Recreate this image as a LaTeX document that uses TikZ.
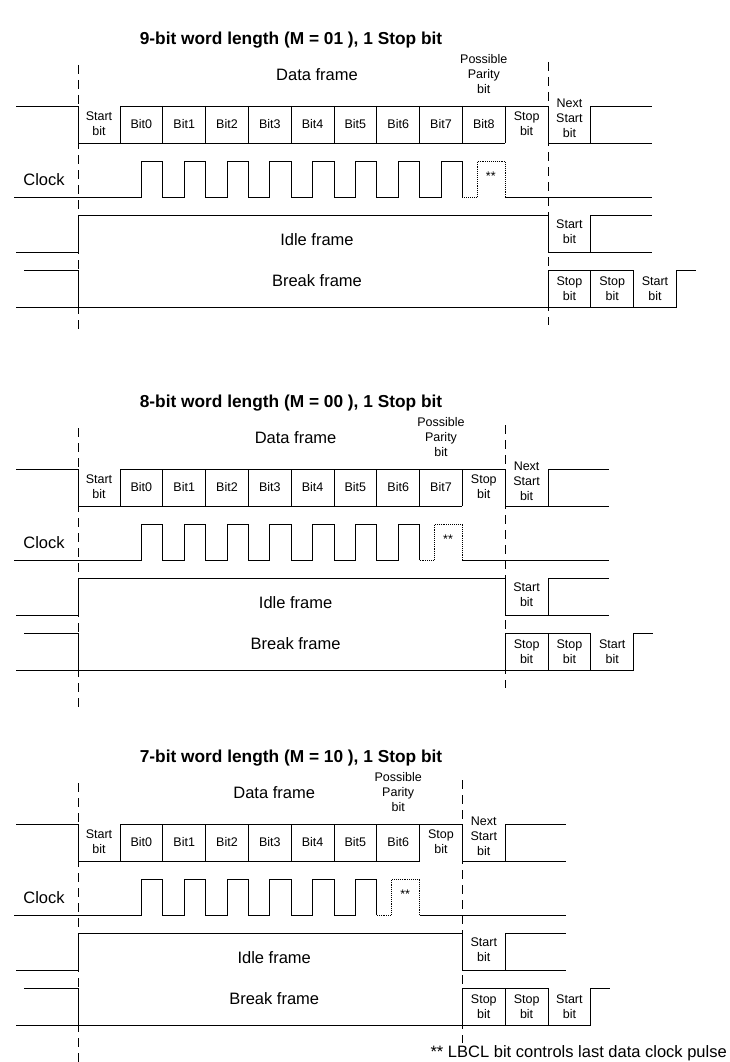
\documentclass[tikz,border=0pt]{standalone}
\usepackage{fontspec}
\setmainfont{Liberation Sans}
\usetikzlibrary{calc}

\tikzset{
  signal/.style={line width=0.9pt},
  sep/.style={line width=0.9pt,dash pattern=on 9pt off 6pt},
  lbl/.style={font=\fontsize{12.5}{15}\selectfont,align=center,inner sep=0pt},
  big/.style={font=\fontsize{16.5}{19}\selectfont,inner sep=0pt},
  ttl/.style={font=\fontsize{17.3}{19}\selectfont\bfseries,inner sep=0pt}
}

% one frame set: #1 shift, #2 number of data bits, #3 word length, #4 M value, #5 end of left marker
\newcommand{\uartdiagram}[5]{%
\begin{scope}[yshift=-#1pt]
  \pgfmathsetmacro{\w}{42.8}
  \pgfmathsetmacro{\E}{120+#2*\w}
  \pgfmathsetmacro{\D}{\E+\w}
  \pgfmathsetmacro{\M}{(78+\D)/2+4}
  \pgfmathtruncatemacro{\last}{#2-1}
  \pgfmathtruncatemacro{\prev}{#2-2}
  \node[ttl] (title) at (291,40) {#3-bit word length (M = #4 ), 1 Stop bit};
  % markers
  \draw[sep] (78,65) -- (78,#5);
  \draw[sep] (\D,62) -- (\D,325);
  % data frame
  \draw[signal] (16,106) -- (78,106) -- (78,143) -- (\E,143);
  \draw[signal] (120,106) -- (\D,106) -- (\D,143) -- (\D+104,143);
  \draw[signal] (\D+\w,143) -- (\D+\w,106) -- (\D+104,106);
  \foreach \i in {0,...,#2}
    \draw[signal] ({120+\i*\w},106) -- ({120+\i*\w},143);
  \node[lbl] (startbit) at (99,124) {Start\\bit};
  \foreach \i in {0,...,\last}
    \node[lbl] (bit\i) at ({120+(\i+.5)*\w},124) {Bit\i};
  \node[lbl] (stopbit) at (\E+\w/2,124) {Stop\\bit};
  \node[lbl] (nextstart) at (\D+\w/2,118) {Next\\Start\\bit};
  \node[lbl] (parity) at (\E-\w/2,74) {Possible\\Parity\\bit};
  \node[big] (data) at (\M,75) {Data frame};
  % clock
  \node[big] (clock) at (44,180) {Clock};
  \draw[signal] (14,197)
    \foreach \i in {0,...,\prev}{
      -- ({120+(\i+.5)*\w},197) -- ({120+(\i+.5)*\w},161)
      -- ({120+(\i+1)*\w},161) -- ({120+(\i+1)*\w},197)};
  \draw[line width=0.9pt,densely dotted] (\E-\w,197) -- (\E-\w+15,197)
    -- (\E-\w+15,161) -- (\E,161) -- (\E,197);
  \draw[signal] (\E,197) -- (\D+104,197);
  \node[lbl] (stars) at (\E-\w/2+7,176) {**};
  % idle frame
  \draw[signal] (16,252) -- (78,252) -- (78,215) -- (\D,215) -- (\D,252) -- (\D+104,252);
  \draw[signal] (\D+\w,252) -- (\D+\w,215) -- (\D+104,215);
  \node[big] (idle) at (\M,240) {Idle frame};
  \node[lbl] (idlestart) at (\D+\w/2,232) {Start\\bit};
  % break frame
  \draw[signal] (24,270) -- (78,270) -- (78,307);
  \draw[signal] (16,307) -- (\D+3*\w,307) -- (\D+3*\w,270) -- (\D+148,270);
  \draw[signal] (\D,307) -- (\D,270) -- (\D+2*\w,270) -- (\D+2*\w,307);
  \draw[signal] (\D+\w,270) -- (\D+\w,307);
  \node[big] (break) at (\M,281) {Break frame};
  \node[lbl] (brstop1) at (\D+\w/2,289) {Stop\\bit};
  \node[lbl] (brstop2) at (\D+1.5*\w,289) {Stop\\bit};
  \node[lbl] (brstart) at (\D+2.5*\w,289) {Start\\bit};
\end{scope}}

\begin{document}
\begin{tikzpicture}[x=1pt,y=-1pt]
\useasboundingbox (0,0) rectangle (729,1062);
\uartdiagram{0}{9}{9}{01}{330}
\uartdiagram{363}{8}{8}{00}{347}
\uartdiagram{718}{7}{7}{10}{344}
\node[big,anchor=east] (note) at (727,1053) {** LBCL bit controls last data clock pulse};
\end{tikzpicture}
\end{document}
